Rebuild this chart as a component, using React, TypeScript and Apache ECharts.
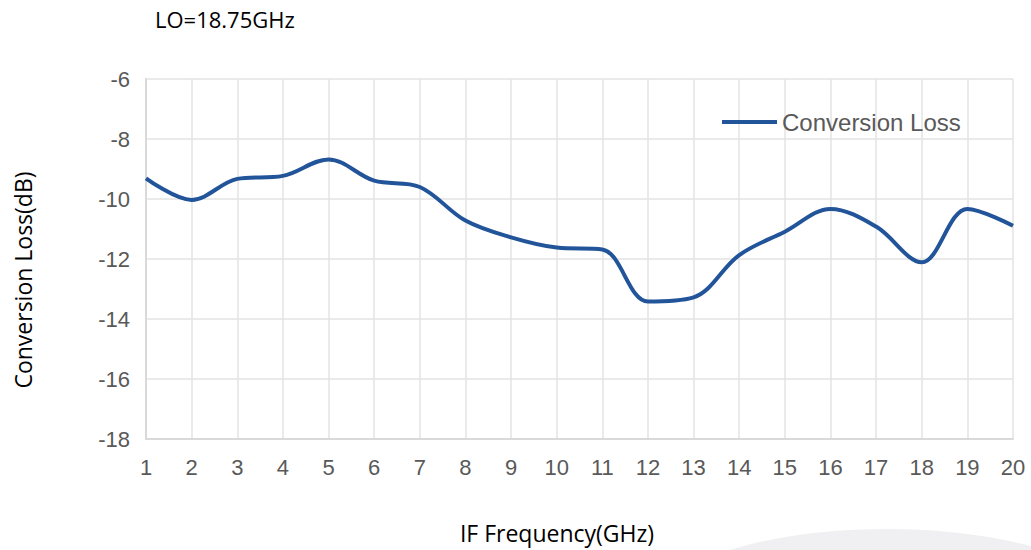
import React, { useEffect, useRef } from "react";
import * as echarts from "echarts";

const frequencies = [1, 2, 3, 4, 5, 6, 7, 8, 9, 10, 11, 12, 13, 14, 15, 16, 17, 18, 19, 20];
const conversionLoss = [
  -9.31, -10.03, -9.33, -9.23, -8.68, -9.39, -9.6, -10.72, -11.28, -11.62,
  -11.68, -13.42, -13.28, -11.87, -11.09, -10.33, -10.92, -12.11, -10.33, -10.89,
];
const seriesName = "Conversion Loss";
const chartTitle = "LO=18.75GHz";
const xTitle = "IF Frequency(GHz)";
const yTitle = "Conversion Loss(dB)";

export default function App() {
  const ref = useRef<HTMLDivElement>(null);
  useEffect(() => {
    if (!ref.current) return;
    const chart = echarts.init(ref.current, undefined, { renderer: "svg" });
    const labelFont = "'Liberation Sans', Arial, sans-serif";
    const titleFont = "'Open Sans', 'Noto Sans', sans-serif";
    chart.setOption({
      animation: false,
      backgroundColor: "#ffffff",
      graphic: [
        {
          type: "ellipse",
          shape: { cx: 887, cy: 611, rx: 235, ry: 82 },
          style: { fill: "#f0f0f2" },
          z: -10,
          silent: true,
        },
        {
          type: "text",
          x: 557,
          y: 533,
          style: {
            text: xTitle,
            align: "center",
            verticalAlign: "middle",
            fontFamily: titleFont,
            fontSize: 23,
            fill: "#000000",
          },
        },
        {
          type: "text",
          x: 23,
          y: 280,
          rotation: Math.PI / 2,
          style: {
            text: yTitle,
            align: "center",
            verticalAlign: "middle",
            fontFamily: titleFont,
            fontSize: 23,
            fill: "#000000",
          },
        },
      ],
      title: {
        text: chartTitle,
        left: 150,
        top: 3,
        textStyle: { fontFamily: titleFont, fontSize: 22, fontWeight: "normal", color: "#000000" },
      },
      legend: {
        data: [seriesName],
        left: 717,
        top: 105,
        icon: "rect",
        itemWidth: 55,
        itemHeight: 4,
        itemGap: 8,
        textStyle: { fontFamily: labelFont, fontSize: 24, color: "#595959" },
      },
      grid: { left: 146, right: 18, top: 79, bottom: 111, containLabel: false },
      xAxis: {
        type: "value",
        min: 1,
        max: 20,
        interval: 1,
        axisLine: { show: true, lineStyle: { color: "#d9d9d9", width: 2 } },
        axisTick: { show: false },
        axisLabel: { fontFamily: labelFont, fontSize: 22, color: "#595959", margin: 17 },
        splitLine: { show: true, lineStyle: { color: "#e3e3e3", width: 1.5 } },
      },
      yAxis: {
        type: "value",
        min: -18,
        max: -6,
        interval: 2,
        axisLine: { show: true, lineStyle: { color: "#d9d9d9", width: 2 } },
        axisTick: { show: false },
        axisLabel: { fontFamily: labelFont, fontSize: 22, color: "#595959", margin: 16 },
        splitLine: { show: true, lineStyle: { color: "#e3e3e3", width: 1.5 } },
      },
      series: [
        {
          name: seriesName,
          type: "line",
          data: frequencies.map((f, i) => [f, conversionLoss[i]]),
          smooth: 0.35,
          symbol: "none",
          lineStyle: { color: "#22549a", width: 4 },
          itemStyle: { color: "#22549a" },
        },
      ],
    });
    return () => chart.dispose();
  }, []);
  return (
    <div
      ref={ref}
      style={{ position: "fixed", left: 0, top: 0, width: 1031, height: 550 }}
    />
  );
}
